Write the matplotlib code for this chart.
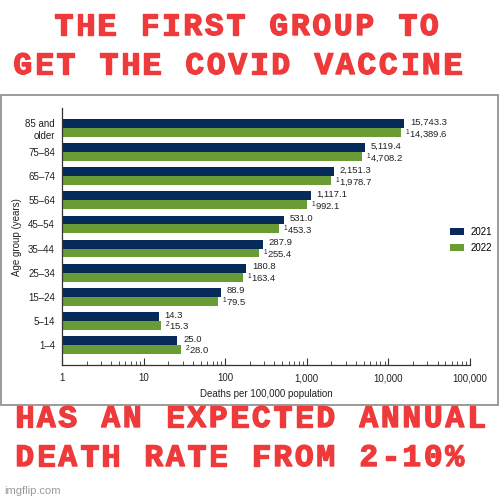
import numpy as np
import matplotlib
matplotlib.use('Agg')
import matplotlib.pyplot as plt
import matplotlib.patheffects as pe
from matplotlib.patches import Rectangle

plt.rcParams['font.family'] = ['Liberation Sans', 'DejaVu Sans']
plt.rcParams['mathtext.default'] = 'regular'

# data
ages = ['85 and\nolder', '75\u201384', '65\u201374', '55\u201364', '45\u201354',
        '35\u201344', '25\u201334', '15\u201324', '5\u201314', '1\u20134']
rate_2021 = [15743.3, 5119.4, 2151.3, 1117.1, 531.0, 287.9, 180.8, 88.9, 14.3, 25.0]
rate_2022 = [14389.6, 4708.2, 1978.7, 992.1, 453.3, 255.4, 163.4, 79.5, 15.3, 28.0]
notes_2022 = ['1', '1', '1', '1', '1', '1', '1', '1', '2', '2']
xticks = [1, 10, 100, 1000, 10000, 100000]
xticklabels = ['1', '10', '100', '1,000', '10,000', '100,000']
top_lines = ['THE FIRST GROUP TO', 'GET THE COVID VACCINE']
bottom_lines = ['HAS AN EXPECTED ANNUAL', 'DEATH RATE FROM 2-10%']

navy = '#062a5a'
green = '#6a9c35'
red = '#ee3a3a'

fig = plt.figure(figsize=(5, 5), dpi=100)
fig.patch.set_facecolor('white')

# frame of the pasted chart
fig.patches.append(Rectangle((0.002, 1 - 405 / 500), 0.994, 310 / 500,
                             transform=fig.transFigure, fill=False,
                             edgecolor='#8a8a8a', linewidth=1.2))

ax = fig.add_axes([62 / 500, 1 - 365 / 500, 408 / 500, 257 / 500])
y = np.arange(len(ages))
h = 0.37
ax.barh(y - h / 2, rate_2021, height=h, left=1, color=navy, label='2021')
ax.barh(y + h / 2, rate_2022, height=h, left=1, color=green, label='2022')

ax.set_xscale('log')
ax.set_xlim(1, 100000)
ax.set_ylim(9.83, -0.83)
ax.set_yticks(y)
ax.set_yticklabels(ages, fontsize=7, color='#222222')
ax.tick_params(axis='y', length=0, pad=5)
ax.set_xticks(xticks)
ax.set_xticklabels(xticklabels)
ax.tick_params(axis='x', which='major', direction='in', length=5, pad=6,
               labelsize=7, color='#333333', labelcolor='#222222')
ax.tick_params(axis='x', which='minor', direction='in', length=3, color='#333333')
for s in ['top', 'right']:
    ax.spines[s].set_visible(False)
for s in ['left', 'bottom']:
    ax.spines[s].set_color('#333333')
    ax.spines[s].set_linewidth(0.9)

for i in range(len(ages)):
    ax.annotate(f'{rate_2021[i]:,.1f}', (rate_2021[i] + 1, y[i] - h / 2),
                xytext=(4, 1), textcoords='offset points', va='center',
                fontsize=6.8, color='#222222')
    ax.annotate(f'$^{notes_2022[i]}$' + f'{rate_2022[i]:,.1f}',
                (rate_2022[i] + 1, y[i] + h / 2),
                xytext=(3, -1), textcoords='offset points', va='center',
                fontsize=6.8, color='#222222')

ax.set_xlabel('Deaths per 100,000 population', fontsize=7, color='#222222', labelpad=4)
fig.text(17 / 500, 1 - 237 / 500, 'Age group (years)', rotation=90, fontsize=7,
         color='#222222', ha='center', va='center')

ax.legend(loc='center left', bbox_to_anchor=(441 / 500, 1 - 240 / 500),
          bbox_transform=fig.transFigure, frameon=False, fontsize=7,
          handlelength=1.5, handleheight=0.7, labelspacing=0.6, handletextpad=0.6)

# meme captions, typewriter style with a fixed character pitch
pitch = 21.5
mono = dict(family='Liberation Mono', weight='bold', fontsize=22.5, color=red,
            ha='center', va='baseline',
            path_effects=[pe.withStroke(linewidth=1.0, foreground=red)])
captions = [(top_lines[0], 53, 35), (top_lines[1], 12, 74),
            (bottom_lines[0], 14, 427), (bottom_lines[1], 14, 466)]
for line, x0, base in captions:
    for k, ch in enumerate(line):
        if ch != ' ':
            fig.text((x0 + (k + 0.5) * pitch) / 500, 1 - base / 500, ch, **mono)

fig.text(4 / 500, 1 - 491 / 500, 'imgflip.com', va='center', ha='left',
         fontsize=8, color='#9a9a9a')

fig.savefig('out.png', dpi=100)
